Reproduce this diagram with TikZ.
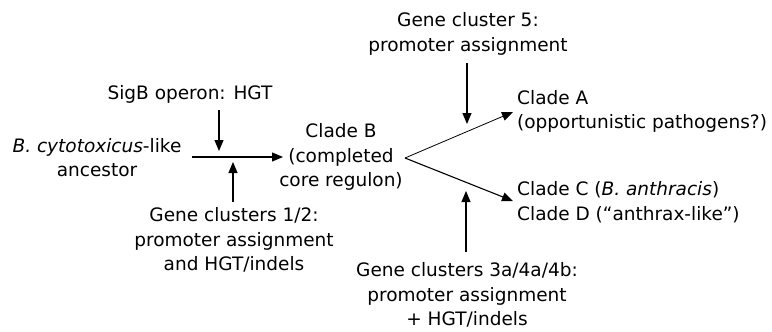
\documentclass[tikz,border=0pt]{standalone}
\usepackage{fontspec}
\setmainfont{DejaVu Sans}
\usetikzlibrary{arrows.meta}
\begin{document}
\begin{tikzpicture}[x=1pt,y=-1pt,
  lbl/.style={inner sep=0pt,align=center,font=\fontsize{18.5}{24.5}\selectfont},
  lblL/.style={inner sep=0pt,align=left,anchor=west,font=\fontsize{18.5}{24.5}\selectfont},
  arr/.style={line width=1.1pt,-{Triangle[length=11pt,width=9pt]}}]
\useasboundingbox (0,0) rectangle (772,332);
% text nodes
\node[lbl] (anc) at (97,157.5) {\textit{B. cytotoxicus}-like\\ancestor};
\node[lbl] (sig) at (190,94) {SigB operon: HGT};
\node[lbl] (g12) at (234,240) {Gene clusters 1/2:\\promoter assignment\\and HGT/indels};
\node[lbl] (cB) at (341,157) {Clade B\\(completed\\core regulon)};
\node[lbl] (g5) at (468,34) {Gene cluster 5:\\promoter assignment};
\node[lbl] (g3) at (467,295) {Gene clusters 3a/4a/4b:\\promoter assignment\\+ HGT/indels};
\node[lblL] (cA) at (517,111.5) {Clade A\\(opportunistic pathogens?)};
\node[lblL] (cCD) at (517,202) {Clade C (\textit{B. anthracis})\\Clade D (``anthrax-like'')};
% coordinates
\coordinate (h1) at (192,157);
\coordinate (h2) at (283,157);
\coordinate (sigS) at (219,110);
\coordinate (sigT) at (219,151);
\coordinate (g12N) at (233,202);
\coordinate (g12T) at (233,162);
\coordinate (fork) at (405,158);
\coordinate (aT) at (513,112);
\coordinate (cT) at (513,201);
\coordinate (g5S) at (467,63);
\coordinate (g5T) at (467,124);
\coordinate (g3S) at (466,252);
\coordinate (g3T) at (466,191);
% connectors
\draw[arr] (h1) -- (h2);
\draw[arr] (sigS) -- (sigT);
\draw[arr] (g12N) -- (g12T);
\draw[arr,line width=0.8pt] (fork) -- (aT);
\draw[arr] (fork) -- (cT);
\draw[arr] (g5S) -- (g5T);
\draw[arr] (g3S) -- (g3T);
\end{tikzpicture}
\end{document}
